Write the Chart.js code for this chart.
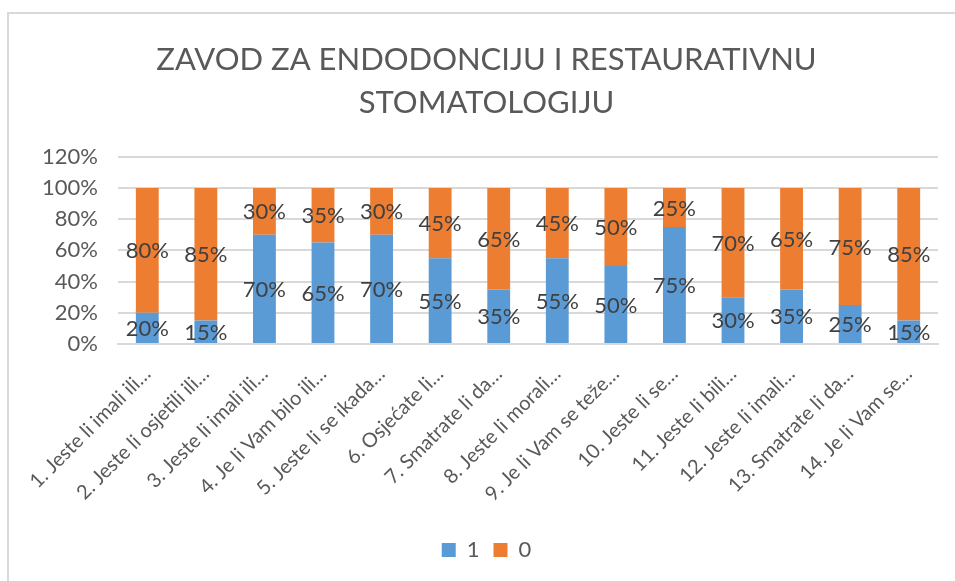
<!DOCTYPE html>
<html>
<head>
<meta charset="utf-8">
<script src="https://cdn.jsdelivr.net/npm/chart.js@4.4.1/dist/chart.umd.min.js"></script>
<style>
    html, body { margin: 0; padding: 0; background: #fff; }
    #wrap { position: relative; width: 955px; height: 581px; overflow: hidden; }
    #frame { position: absolute; left: 7px; top: 12px; width: 1000px; height: 1000px;
             border-top: 2px solid #d9d9d9; border-left: 2px solid #d9d9d9; }
    #chart { position: absolute; left: 0; top: 0; }
</style>
</head>
<body>
<div id="wrap">
    <div id="frame"></div>
    <canvas id="chart" width="955" height="581"></canvas>
</div>
<script>
// Chart data
const categories = [
    '1. Jeste li imali ili…',
    '2. Jeste li osjetili ili…',
    '3. Jeste li imali ili…',
    '4. Je li Vam bilo ili…',
    '5. Jeste li se ikada…',
    '6. Osjećate li…',
    '7. Smatrate li da…',
    '8. Jeste li morali…',
    '9. Je li Vam se teže…',
    '10. Jeste li se…',
    '11. Jeste li bili…',
    '12. Jeste li imali…',
    '13. Smatrate li da…',
    '14. Je li Vam se…'
];
const series1 = [20, 15, 70, 65, 70, 55, 35, 55, 50, 75, 30, 35, 25, 15];
const series0 = [80, 85, 30, 35, 30, 45, 65, 45, 50, 25, 70, 65, 75, 85];
const yTicks = [0, 20, 40, 60, 80, 100, 120];

const FONT = 'Lato, "Open Sans", sans-serif';

// Draw value labels centred in each segment
const segmentLabels = {
    id: 'segmentLabels',
    afterDatasetsDraw(chart) {
        const ctx = chart.ctx;
        ctx.save();
        ctx.font = '22px ' + FONT;
        ctx.fillStyle = '#404040';
        ctx.textAlign = 'center';
        ctx.textBaseline = 'middle';
        chart.data.datasets.forEach((ds, i) => {
            const meta = chart.getDatasetMeta(i);
            meta.data.forEach((bar, j) => {
                const y = (bar.y + bar.base) / 2;
                ctx.fillText(ds.data[j] + '%', bar.x, y + 1);
            });
        });
        ctx.restore();
    }
};

new Chart(document.getElementById('chart'), {
    type: 'bar',
    data: {
        labels: categories,
        datasets: [{
            label: '1',
            data: series1,
            backgroundColor: '#5B9BD5',
            categoryPercentage: 1,
            barPercentage: 0.39
        }, {
            label: '0',
            data: series0,
            backgroundColor: '#ED7D31',
            categoryPercentage: 1,
            barPercentage: 0.39
        }]
    },
    options: {
        responsive: false,
        animation: false,
        layout: { padding: { left: 35, right: 17, top: 0, bottom: 10 } },
        plugins: {
            title: {
                display: true,
                text: ['ZAVOD ZA ENDODONCIJU I RESTAURATIVNU', 'STOMATOLOGIJU'],
                color: '#595959',
                font: { family: FONT, size: 31, weight: 'normal', lineHeight: 1.4 },
                padding: { top: 38, bottom: 32 }
            },
            legend: {
                position: 'bottom',
                labels: {
                    color: '#595959',
                    font: { family: FONT, size: 22 },
                    boxWidth: 14,
                    boxHeight: 14,
                    padding: 14
                }
            },
            tooltip: { enabled: false }
        },
        scales: {
            x: {
                stacked: true,
                grid: { display: false },
                border: { color: '#d9d9d9', width: 2 },
                ticks: {
                    color: '#595959',
                    font: { family: FONT, size: 20 },
                    padding: 10,
                    autoSkip: false,
                    maxRotation: 45,
                    minRotation: 45
                },
                afterFit(scale) { scale.height = 181; }
            },
            y: {
                stacked: true,
                min: 0,
                max: 120,
                afterBuildTicks(scale) { scale.ticks = yTicks.map(v => ({ value: v })); },
                grid: { color: '#d9d9d9', lineWidth: 2, drawTicks: false },
                border: { display: false },
                ticks: {
                    color: '#595959',
                    font: { family: FONT, size: 22 },
                    padding: 20,
                    callback: function(value) { return value + '%'; }
                },
                afterFit(scale) { scale.width = 83; }
            }
        }
    },
    plugins: [segmentLabels]
});
</script>
</body>
</html>
